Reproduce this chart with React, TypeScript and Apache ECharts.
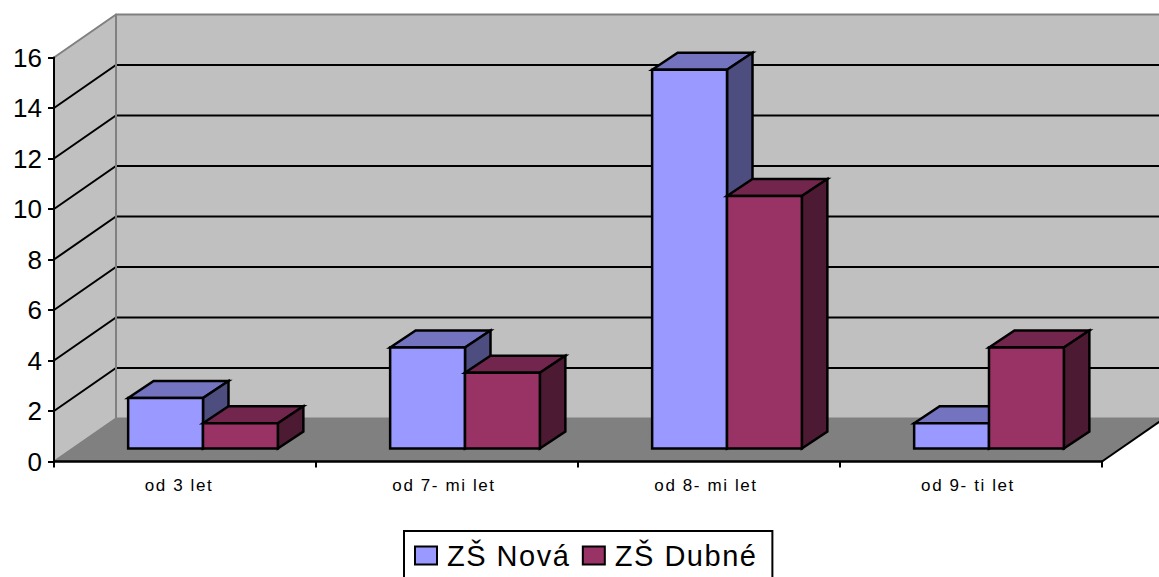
import React, { useEffect, useRef } from "react";
import * as echarts from "echarts";

const categories = ["od 3 let", "od 7- mi let", "od 8- mi let", "od 9- ti let"];
const novaName = "ZŠ Nová";
const dubneName = "ZŠ Dubné";
const novaValues = [2, 4, 15, 1];
const dubneValues = [1, 3, 10, 4];
const wallGridValues = [2, 4, 6, 8, 10, 12, 14];

// Oblique projection of the box: back wall offset and bar placement on the floor
const WALL_DX = 62;
const WALL_DY = -43;
const FLOOR_DX = 18;
const FLOOR_DY = -13;
const BAR_DX = 25.5;
const BAR_DY = -17;

const FONT = '"Liberation Sans", Arial, sans-serif';

function renderWalls(params: any, api: any) {
  const cs = params.coordSys;
  const left = cs.x;
  const right = cs.x + cs.width;
  const top = cs.y;
  const bottom = cs.y + cs.height;
  const gray = { stroke: "#808080", lineWidth: 2, lineJoin: "round" };
  const children: any[] = [
    {
      type: "polygon",
      shape: { points: [[left, top], [left + WALL_DX, top + WALL_DY], [left + WALL_DX, bottom + WALL_DY], [left, bottom]] },
      style: { fill: "#C0C0C0", ...gray },
    },
    {
      type: "polygon",
      shape: { points: [[left + WALL_DX, top + WALL_DY], [right + WALL_DX, top + WALL_DY], [right + WALL_DX, bottom + WALL_DY], [left + WALL_DX, bottom + WALL_DY]] },
      style: { fill: "#C0C0C0", ...gray },
    },
    {
      type: "polygon",
      shape: { points: [[left, bottom], [left + WALL_DX, bottom + WALL_DY], [right + WALL_DX, bottom + WALL_DY], [right, bottom]] },
      style: { fill: "#808080", stroke: "#808080", lineWidth: 1 },
    },
    {
      type: "line",
      shape: { x1: right, y1: bottom, x2: right + WALL_DX, y2: bottom + WALL_DY },
      style: { stroke: "#000000", lineWidth: 2 },
    },
  ];
  wallGridValues.forEach((v) => {
    const y = api.coord([0, v])[1];
    children.push({
      type: "polyline",
      shape: { points: [[left, y], [left + WALL_DX, y + WALL_DY], [right + WALL_DX, y + WALL_DY]] },
      style: { fill: "none", stroke: "#000000", lineWidth: 2 },
    });
  });
  // the wall corner stays gray above the grid lines
  children.push({
    type: "line",
    shape: { x1: left + WALL_DX, y1: top + WALL_DY, x2: left + WALL_DX, y2: bottom + WALL_DY },
    style: { stroke: "#808080", lineWidth: 2 },
  });
  return { type: "group", children };
}

function barRenderer(seriesIndex: number, front: string, topFace: string, sideFace: string) {
  return (_params: any, api: any) => {
    const cat = api.value(0);
    const val = api.value(1);
    const zero = api.coord([cat, 0]);
    const peak = api.coord([cat, val]);
    const w = api.size([1, 0])[0] / 3.5;
    const x0 = zero[0] + FLOOR_DX + (seriesIndex === 0 ? -w : 0);
    const x1 = x0 + w;
    const yb = zero[1] + FLOOR_DY;
    const yt = peak[1] + FLOOR_DY;
    const line = { stroke: "#000000", lineWidth: 2.5, lineJoin: "miter" };
    return {
      type: "group",
      children: [
        {
          type: "polygon",
          shape: { points: [[x0, yt], [x0 + BAR_DX, yt + BAR_DY], [x1 + BAR_DX, yt + BAR_DY], [x1, yt]] },
          style: { fill: topFace, ...line },
        },
        {
          type: "polygon",
          shape: { points: [[x1, yt], [x1 + BAR_DX, yt + BAR_DY], [x1 + BAR_DX, yb + BAR_DY], [x1, yb]] },
          style: { fill: sideFace, ...line },
        },
        {
          type: "polygon",
          shape: { points: [[x0, yt], [x1, yt], [x1, yb], [x0, yb]] },
          style: { fill: front, ...line },
        },
      ],
    };
  };
}

export default function App() {
  const ref = useRef<HTMLDivElement>(null);

  useEffect(() => {
    if (!ref.current) return;
    const chart = echarts.init(ref.current, undefined, { renderer: "svg" });
    const toData = (vals: number[]) => vals.map((v, i) => [i, v]);
    chart.setOption({
      animation: false,
      backgroundColor: "#FFFFFF",
      textStyle: { fontFamily: FONT },
      grid: { left: 54, top: 57.5, width: 1048, height: 404 },
      legend: {
        data: [novaName, dubneName],
        left: 404,
        top: 531,
        icon: "rect",
        padding: [10, 27, 20, 10],
        itemWidth: 22,
        itemHeight: 18,
        itemGap: 22,
        borderColor: "#000000",
        borderWidth: 2,
        textStyle: { fontFamily: FONT, fontSize: 29, color: "#000000", padding: [0, 0, 0, 5] },
      },
      xAxis: {
        type: "category",
        // the first label sits further left of its band than the others
        data: categories.map((c, i) => (i === 0 ? { value: c, textStyle: { padding: [0, 12, 0, 0] } } : c)),
        z: 6,
        axisLine: { lineStyle: { color: "#000000", width: 2.5 } },
        axisTick: { show: true, length: 6, lineStyle: { color: "#000000", width: 2 } },
        axisLabel: { fontFamily: FONT, fontSize: 17, color: "#000000", margin: 15, interval: 0, padding: [0, 6, 0, 0] },
      },
      yAxis: {
        type: "value",
        min: 0,
        max: 16,
        interval: 2,
        z: 6,
        axisLine: { show: true, lineStyle: { color: "#000000", width: 2 } },
        axisTick: { show: true, length: 6, lineStyle: { color: "#000000", width: 2 } },
        axisLabel: { fontFamily: FONT, fontSize: 26, color: "#000000", margin: 12 },
        splitLine: { show: false },
      },
      series: [
        { type: "custom", name: "walls", z: 1, renderItem: renderWalls, data: [[0, 0]], silent: true },
        {
          type: "custom",
          name: novaName,
          z: 2,
          renderItem: barRenderer(0, "#9999FF", "#7373BF", "#4D4D80"),
          itemStyle: { color: "#9999FF", borderColor: "#000000", borderWidth: 2 },
          data: toData(novaValues),
        },
        {
          type: "custom",
          name: dubneName,
          z: 3,
          renderItem: barRenderer(1, "#993366", "#73264D", "#4D1A33"),
          itemStyle: { color: "#993366", borderColor: "#000000", borderWidth: 2 },
          data: toData(dubneValues),
        },
      ],
    });
    return () => chart.dispose();
  }, []);

  return (
    <>
      <style>{`
        .plot text[style*="17px"] { letter-spacing: 1.6px; }
        .plot text[style*="29px"] { letter-spacing: 1.5px; }
      `}</style>
      <div className="plot" ref={ref} style={{ position: "fixed", left: 0, top: 0, width: 1159, height: 577 }} />
    </>
  );
}
